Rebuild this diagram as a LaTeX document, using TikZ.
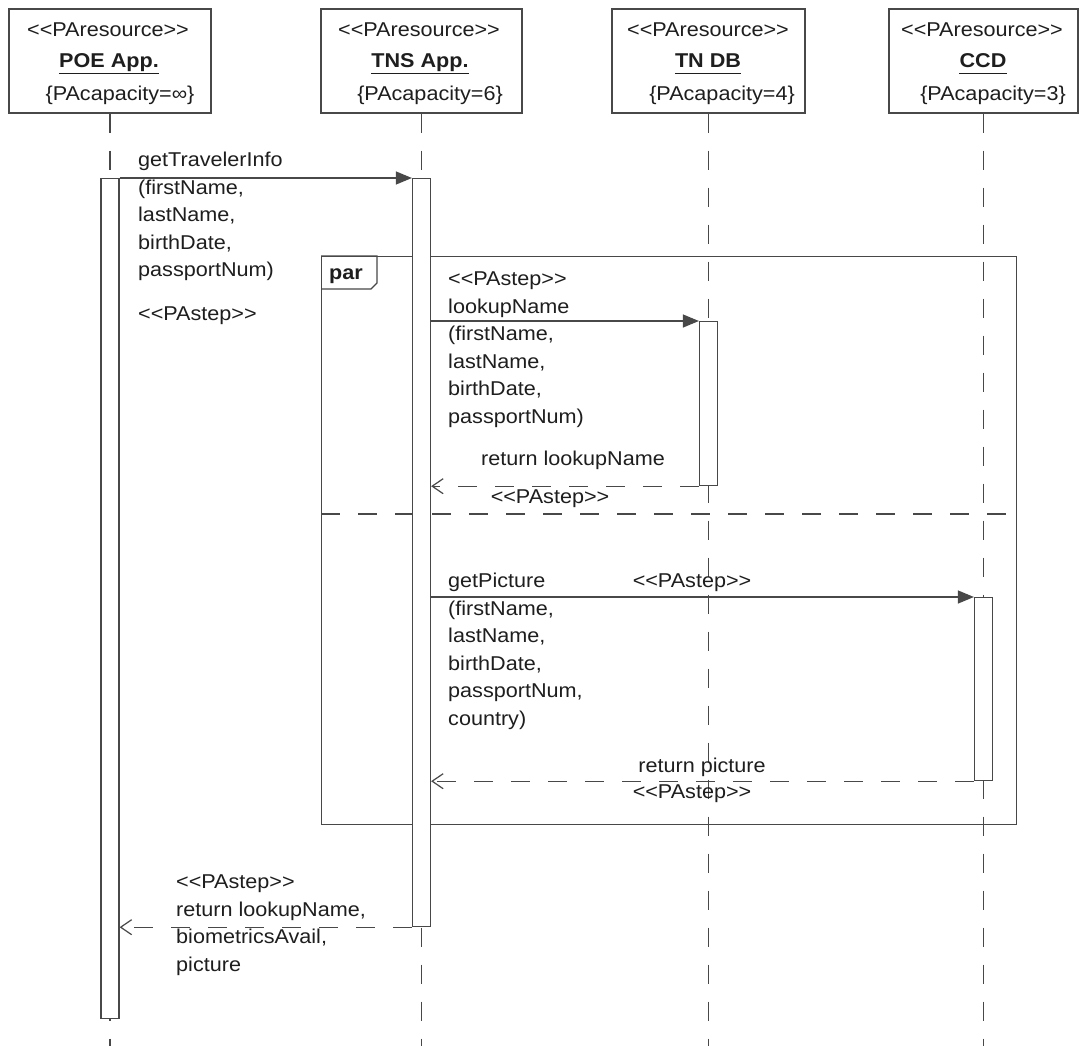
\documentclass[tikz,border=0pt]{standalone}
\usepackage{fontspec}
\setmainfont{Liberation Sans}[FakeStretch=1.08]
\usetikzlibrary{arrows.meta,calc}
\definecolor{ink}{HTML}{1E1E1E}
\definecolor{linec}{HTML}{484848}
\newcommand\stereo[1]{<\kern0pt<#1>\kern0pt>}
\tikzset{
  every node/.style={font=\fontsize{20}{27.5}\selectfont, text=ink},
  hdr/.style={draw=linec, line width=1.2pt, rectangle, inner sep=0pt, minimum height=104pt},
  lbl/.style={inner sep=0pt, anchor=base},
  lblw/.style={inner sep=0pt, anchor=base west},
  blk/.style={inner sep=0pt, anchor=north west, align=left},
  lifeline/.style={draw=linec, line width=1.2pt, dash pattern=on 19pt off 18pt},
  actbar/.style={draw=linec, fill=white, line width=1.2pt, minimum width=18pt, inner sep=0pt, anchor=north},
  syncmsg/.style={draw=linec, line width=1.2pt, -{Triangle[length=16pt,width=13pt]}},
  retmsg/.style={draw=linec, line width=1.2pt, dash pattern=on 19pt off 18pt, -{Straight Barb[length=11pt,width=15pt]}},
  frameline/.style={draw=linec, line width=1.2pt},
  divider/.style={draw=linec, line width=1.2pt, dash pattern=on 19pt off 18pt},
  uline/.style={draw=ink, line width=1.5pt}
}
\begin{document}
\begin{tikzpicture}[x=1pt,y=-1pt]
\useasboundingbox[fill=white] (0,0) rectangle (1081,1046);

% header boxes
\node[hdr, minimum width=202pt] (poe) at (110,61) {};
\node[hdr, minimum width=201pt] (tns) at (421.5,61) {};
\node[hdr, minimum width=193pt] (tndb) at (708.5,61) {};
\node[hdr, minimum width=189pt] (ccd) at (983.5,61) {};

% lifelines
\coordinate (poeend) at (110,1050);
\coordinate (tnsend) at (421.5,1050);
\coordinate (tndbend) at (708.5,1050);
\coordinate (ccdend) at (983.5,1050);
\draw[lifeline] (poe.south) -- (poeend);
\draw[lifeline] (tns.south) -- (tnsend);
\draw[lifeline] (tndb.south) -- (tndbend);
\draw[lifeline] (ccd.south) -- (ccdend);

% header texts
\node[lbl] (poeS) at (108,37) {\stereo{PAresource}};
\node[lbl] (poeN) at (109,68) {\textbf{POE App.}};
\node[lbl] (poeC) at (120,101) {\{PAcapacity=∞\}};
\node[lbl] (tnsS) at (419,37) {\stereo{PAresource}};
\node[lbl] (tnsN) at (420,68) {\textbf{TNS App.}};
\node[lbl] (tnsC) at (430,101) {\{PAcapacity=6\}};
\node[lbl] (tndbS) at (708,37) {\stereo{PAresource}};
\node[lbl] (tndbN) at (708,68) {\textbf{TN DB}};
\node[lbl] (tndbC) at (722,101) {\{PAcapacity=4\}};
\node[lbl] (ccdS) at (982,37) {\stereo{PAresource}};
\node[lbl] (ccdN) at (983,68) {\textbf{CCD}};
\node[lbl] (ccdC) at (993,101) {\{PAcapacity=3\}};
\foreach \n in {poeN,tnsN,tndbN,ccdN}
  \draw[uline] ([yshift=-5.5pt]\n.base west) -- ([yshift=-5.5pt]\n.base east);

% par combined fragment
\node[frameline, rectangle, inner sep=0pt, minimum width=695pt, minimum height=568pt, anchor=north west] (parframe) at (321,256) {};
\coordinate (divy) at (0,514);
\draw[divider] (parframe.west |- divy) -- (parframe.east |- divy);
\draw[frameline] (parframe.north west) -- ++(56,0) -- ++(0,27) -- ++(-6,6) -- ++(-50,0);
\node[lblw] (partag) at (329,279) {\textbf{par}};

% activation bars
\node[actbar, minimum height=840pt] (poeact) at (110,178) {};
\node[actbar, minimum height=748pt] (tnsact) at (421.5,178) {};
\node[actbar, minimum height=164pt] (tndbact) at (708.5,321) {};
\node[actbar, minimum height=183pt] (ccdact) at (983.5,597) {};

% messages
\draw[syncmsg] (poeact.north east) -- (tnsact.north west);
\draw[syncmsg] (tnsact.east |- tndbact.north) -- (tndbact.north west);
\draw[retmsg] (tndbact.south west) -- (tnsact.east |- tndbact.south);
\draw[syncmsg] (tnsact.east |- ccdact.north) -- (ccdact.north west);
\draw[retmsg] (ccdact.south west) -- (tnsact.east |- ccdact.south);
\draw[retmsg] (tnsact.south west) -- (poeact.east |- tnsact.south);

% message labels
\node[blk] (m1txt) at (138,147.25) {\strut getTravelerInfo\\(firstName,\\lastName,\\birthDate,\\passportNum)};
\node[lblw] (m1st) at (138,320) {\stereo{PAstep}};

\node[blk] (m2txt) at (448,266.25) {\strut\stereo{PAstep}\\lookupName\\(firstName,\\lastName,\\birthDate,\\passportNum)};
\node[lbl] (r2txt) at (573,465.5) {return lookupName};
\node[lbl] (r2st) at (550,503.5) {\stereo{PAstep}};

\node[blk] (m3txt) at (448,568.25) {\strut getPicture\\(firstName,\\lastName,\\birthDate,\\passportNum,\\country)};
\node[lbl] (m3st) at (692,587.5) {\stereo{PAstep}};
\node[lbl] (r3txt) at (702,772) {return picture};
\node[lbl] (r3st) at (692,798.5) {\stereo{PAstep}};

\node[blk] (r4txt) at (176,869.25) {\strut\stereo{PAstep}\\return lookupName,\\biometricsAvail,\\picture};
\end{tikzpicture}
\end{document}
